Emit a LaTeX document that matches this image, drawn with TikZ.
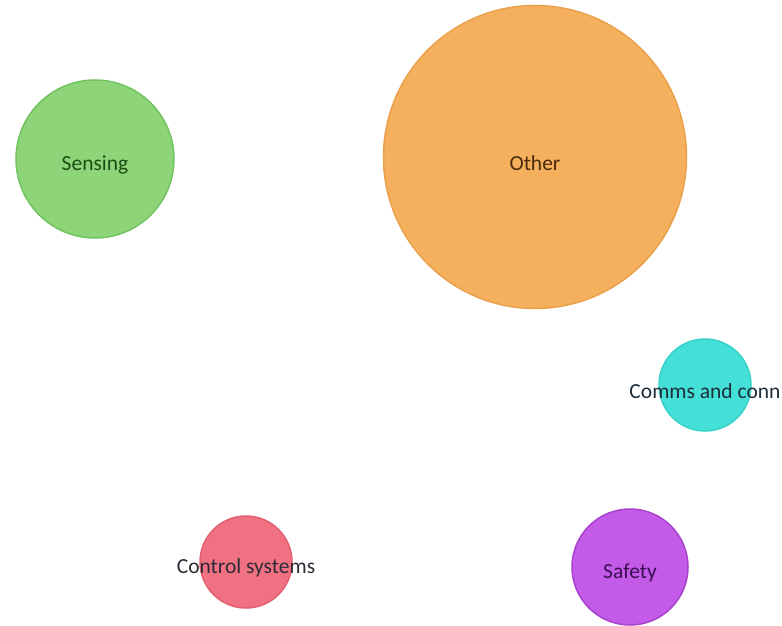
\documentclass[tikz,border=0pt]{standalone}
\usepackage{fontspec}
\setmainfont{Carlito}
\begin{document}
\begin{tikzpicture}[x=1pt,y=-1pt,
  bub/.style={circle,inner sep=0pt,line width=1.5pt},
  lab/.style={font=\fontsize{21.5}{24}\selectfont,yshift=-6pt}]
\useasboundingbox (0,0) rectangle (782,626);
\fill[white] (0,0) rectangle (782,626);
\definecolor{gfill}{HTML}{8ED57A}\definecolor{gline}{HTML}{72C460}\definecolor{gtxt}{HTML}{1E4D14}
\definecolor{ofill}{HTML}{F5B05E}\definecolor{oline}{HTML}{E9A14C}\definecolor{otxt}{HTML}{4A2A08}
\definecolor{cfill}{HTML}{44E0D8}\definecolor{cline}{HTML}{38D2CA}\definecolor{ctxt}{HTML}{1E2E3A}
\definecolor{rfill}{HTML}{F07282}\definecolor{rline}{HTML}{E26070}\definecolor{rtxt}{HTML}{2E2A36}
\definecolor{pfill}{HTML}{C45AE8}\definecolor{pline}{HTML}{A844CC}\definecolor{ptxt}{HTML}{3A0E50}
\node[bub,fill=gfill,draw=gline,minimum size=158pt] (sens) at (95,159) {};
\node[bub,fill=ofill,draw=oline,minimum size=303pt] (oth) at (535,157) {};
\node[bub,fill=cfill,draw=cline,minimum size=92pt] (comm) at (705,385) {};
\node[bub,fill=rfill,draw=rline,minimum size=92pt] (ctrl) at (246,562) {};
\node[bub,fill=pfill,draw=pline,minimum size=116pt] (safe) at (630,567) {};
\node[lab,text=gtxt] (tsens) at (sens.center) {Sensing};
\node[lab,text=otxt] (toth) at (oth.center) {Other};
\node[lab,text=ctxt] (tcomm) at (comm.center) {Comms and conn};
\node[lab,text=rtxt] (tctrl) at (ctrl.center) {Control systems};
\node[lab,text=ptxt] (tsafe) at (safe.center) {Safety};
\end{tikzpicture}
\end{document}
